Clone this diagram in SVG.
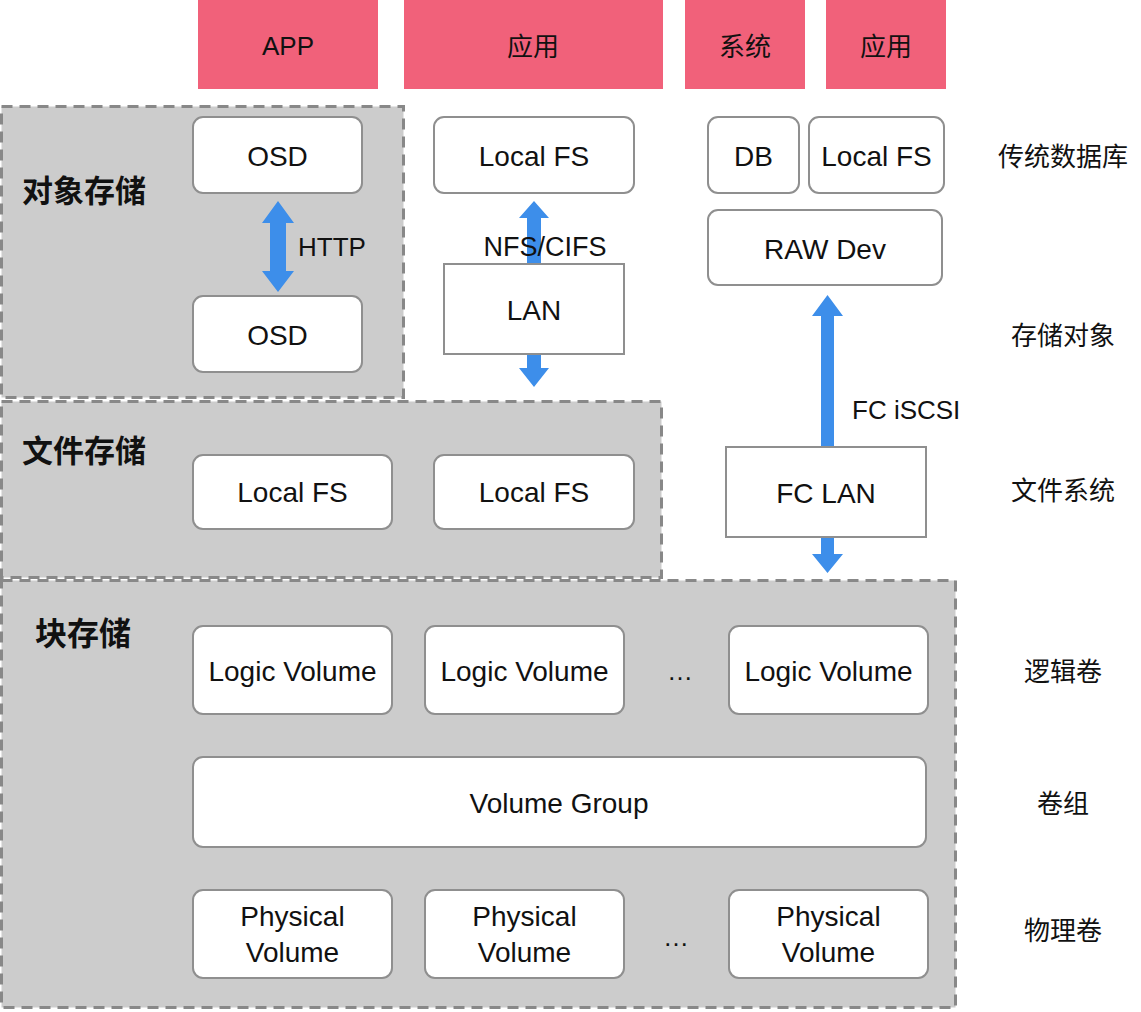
<svg xmlns="http://www.w3.org/2000/svg" width="1141" height="1012" viewBox="0 0 1141 1012">
<style>
.app{fill:#F1617A}
.region{fill:#CCCCCC;stroke:#888888;stroke-width:3;stroke-dasharray:11 7}
.box{fill:#FFFFFF;stroke:#8F8F8F;stroke-width:2}
.t{font-family:"Liberation Sans",Arial,sans-serif;font-size:28px;fill:#111;text-anchor:middle;dominant-baseline:central}
.s{font-family:"Liberation Sans",Arial,sans-serif;font-size:26px;fill:#111}
.cn{font-family:"Noto Sans CJK SC",sans-serif;font-size:26px;fill:#111;text-anchor:middle;dominant-baseline:central}
.title{font-family:"Noto Sans CJK SC",sans-serif;font-size:31px;font-weight:bold;fill:#111;dominant-baseline:central}
.arrow{fill:#3D8EEA}
</style>
<rect width="1141" height="1012" fill="#FFFFFF"/>

<g id="app-top">
<rect class="app" x="198" y="0" width="180" height="89"/>
<text class="t" x="288" y="46" style="font-size:26px">APP</text>
</g>
<g id="app-yingyong1">
<rect class="app" x="404" y="0" width="259" height="89"/>
<text class="cn" x="533" y="44">应用</text>
</g>
<g id="app-xitong">
<rect class="app" x="685" y="0" width="120" height="89"/>
<text class="cn" x="745" y="44">系统</text>
</g>
<g id="app-yingyong2">
<rect class="app" x="826" y="0" width="120" height="89"/>
<text class="cn" x="886" y="44">应用</text>
</g>

<g id="block-storage">
<rect class="region" x="1.5" y="580.5" width="954" height="427"/>
<text class="title" x="35" y="631" style="font-size:32px">块存储</text>
</g>
<g id="file-storage">
<rect class="region" x="1.5" y="401.5" width="660" height="176"/>
<text class="title" x="22" y="448">文件存储</text>
</g>
<g id="object-storage">
<rect class="region" x="1.5" y="106.5" width="402" height="291"/>
<text class="title" x="22" y="188">对象存储</text>
</g>

<g id="osd1"><rect class="box" x="193" y="117" width="169" height="76" rx="10"/><text class="t" x="277.5" y="156">OSD</text></g>
<g id="osd2"><rect class="box" x="193" y="296" width="169" height="76" rx="10"/><text class="t" x="277.5" y="335">OSD</text></g>

<g id="localfs-top"><rect class="box" x="434" y="117" width="200" height="76" rx="10"/><text class="t" x="534" y="156">Local FS</text></g>
<g id="db"><rect class="box" x="708" y="117" width="91" height="76" rx="10"/><text class="t" x="753.5" y="156">DB</text></g>
<g id="localfs-right"><rect class="box" x="809" y="117" width="135" height="76" rx="10"/><text class="t" x="876.5" y="156">Local FS</text></g>
<g id="rawdev"><rect class="box" x="708" y="210" width="234" height="75" rx="10"/><text class="t" x="825" y="249">RAW Dev</text></g>

<g id="connectors">
<path class="arrow" d="M278,201 L294,223 L286,223 L286,271 L294,271 L278,292 L262,271 L270,271 L270,223 L262,223 Z"/>
<path class="arrow" d="M534,201 L549,218 L541,218 L541,265 L527,265 L527,218 L519,218 Z"/>
<path class="arrow" d="M527,353 L541,353 L541,368 L549,368 L534,387 L519,368 L527,368 Z"/>
<path class="arrow" d="M827.5,295 L843,316 L834,316 L834,448 L821,448 L821,316 L812,316 Z"/>
<path class="arrow" d="M821,536 L834,536 L834,554 L843,554 L827.5,573 L812,554 L821,554 Z"/>
<text class="s" x="298" y="256">HTTP</text>
<text class="s" x="545" y="256" text-anchor="middle" style="font-size:27px">NFS/CIFS</text>
<text class="s" x="852" y="419">FC iSCSI</text>
</g>

<g id="lan"><rect class="box" x="444" y="264" width="180" height="90"/><text class="t" x="534" y="310">LAN</text></g>
<g id="fclan"><rect class="box" x="726" y="447" width="200" height="90"/><text class="t" x="826" y="493">FC LAN</text></g>

<g id="file-localfs1"><rect class="box" x="193" y="455" width="199" height="74" rx="10"/><text class="t" x="292.5" y="492">Local FS</text></g>
<g id="file-localfs2"><rect class="box" x="434" y="455" width="200" height="74" rx="10"/><text class="t" x="534" y="492">Local FS</text></g>

<g id="lv1"><rect class="box" x="193" y="626" width="199" height="88" rx="10"/><text class="t" x="292.5" y="671">Logic Volume</text></g>
<g id="lv2"><rect class="box" x="425" y="626" width="199" height="88" rx="10"/><text class="t" x="524.5" y="671">Logic Volume</text></g>
<g id="lv-dots"><text class="t" x="680" y="671" style="font-size:26px">…</text></g>
<g id="lv3"><rect class="box" x="729" y="626" width="199" height="88" rx="10"/><text class="t" x="828.5" y="671">Logic Volume</text></g>

<g id="vg"><rect class="box" x="193" y="757" width="733" height="90" rx="10"/><text class="t" x="559" y="803">Volume Group</text></g>

<g id="pv1"><rect class="box" x="193" y="890" width="199" height="88" rx="10"/><text class="t" x="292.5" y="916">Physical</text><text class="t" x="292.5" y="952">Volume</text></g>
<g id="pv2"><rect class="box" x="425" y="890" width="199" height="88" rx="10"/><text class="t" x="524.5" y="916">Physical</text><text class="t" x="524.5" y="952">Volume</text></g>
<g id="pv-dots"><text class="t" x="676" y="937" style="font-size:26px">…</text></g>
<g id="pv3"><rect class="box" x="729" y="890" width="199" height="88" rx="10"/><text class="t" x="828.5" y="916">Physical</text><text class="t" x="828.5" y="952">Volume</text></g>

<g id="layer-labels">
<text class="cn" x="1063" y="154">传统数据库</text>
<text class="cn" x="1063" y="333">存储对象</text>
<text class="cn" x="1063" y="488">文件系统</text>
<text class="cn" x="1063" y="669">逻辑卷</text>
<text class="cn" x="1063" y="801">卷组</text>
<text class="cn" x="1063" y="928">物理卷</text>
</g>
</svg>
